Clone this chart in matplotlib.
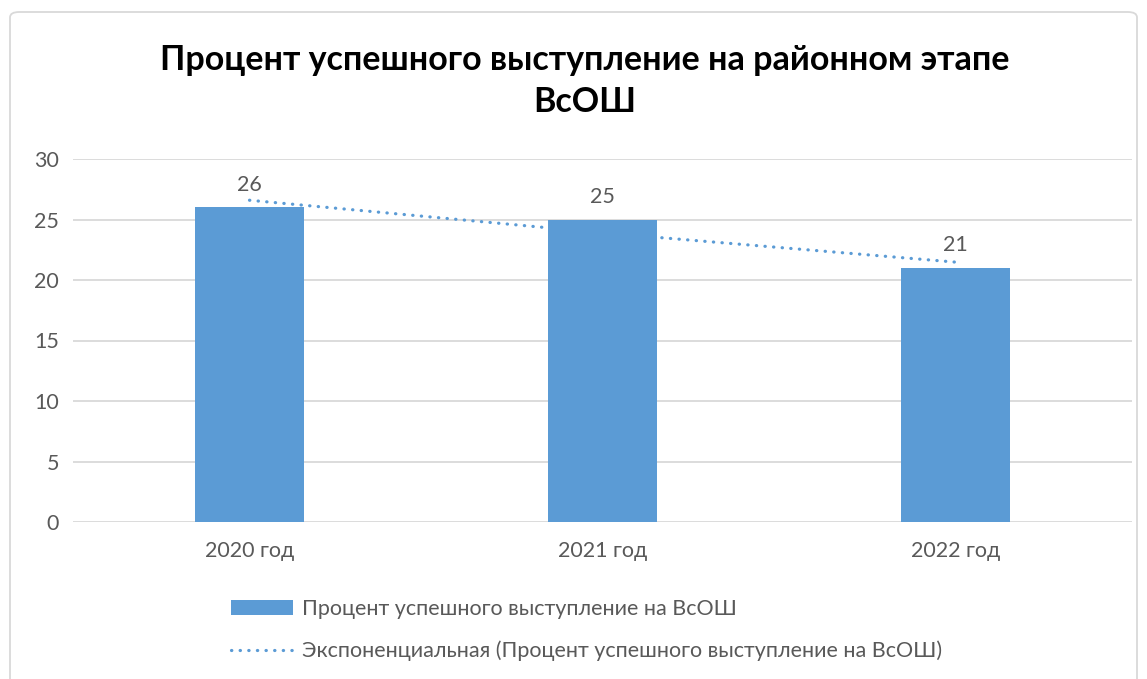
import numpy as np
import matplotlib
matplotlib.use('Agg')
import matplotlib.pyplot as plt
from matplotlib.patches import FancyBboxPatch

plt.rcParams['font.family'] = ['Lato', 'DejaVu Sans']

# data
years = ['2020 год', '2021 год', '2022 год']
values = [26, 25, 21]
series_name = 'Процент успешного выступление на ВсОШ'
trend_name = 'Экспоненциальная (Процент успешного выступление на ВсОШ)'
title = 'Процент успешного выступление на районном этапе\nВсОШ'

blue = '#5b9bd5'
grey_txt = '#595959'
grid_c = '#d9d9d9'

fig = plt.figure(figsize=(11.47, 6.79), dpi=100, facecolor='white')

# chart border like excel
border = FancyBboxPatch((10/1147, -0.05), 1127/1147, 1-12/679+0.05,
                        boxstyle='round,pad=0,rounding_size=0.008',
                        transform=fig.transFigure, fill=False,
                        edgecolor=grid_c, linewidth=1.3)
fig.patches.append(border)

ax = fig.add_axes([73/1147, 157/679, 1059/1147, 363/679])
x = np.arange(len(years))
bars = ax.bar(x, values, width=0.31, color=blue, zorder=2, label=series_name)

for xi, v in zip(x, values):
    ax.annotate(str(v), (xi, v), xytext=(0, 9), textcoords='offset points',
                ha='center', va='bottom', fontsize=15.5, color=grey_txt)

# exponential trend (least squares on log values)
xs = x + 1
b, lna = np.polyfit(xs, np.log(values), 1)
trend = np.exp(lna + b*xs)
tline, = ax.plot(x, trend, color=blue, linestyle=(0, (0.1, 2.6)), linewidth=2.3,
                 dash_capstyle='round', zorder=3, label=trend_name)

ax.set_xlim(-0.5, 2.5)
ax.set_ylim(0, 30)
ax.set_yticks(range(0, 31, 5))
ax.yaxis.grid(True, color=grid_c, linewidth=1.3, zorder=0)
ax.set_axisbelow(True)
for s in ax.spines.values():
    s.set_visible(False)
ax.set_xticks(x)
ax.set_xticklabels(years)
ax.tick_params(axis='both', length=0, labelsize=15.5, labelcolor=grey_txt)
ax.tick_params(axis='y', pad=10)
ax.tick_params(axis='x', pad=14)

fig.text(585/1147, 1-81/679, title, ha='center', va='center', fontsize=24.5,
         fontweight='bold', color='black', linespacing=1.36)

fig.legend(handles=[bars, tline], loc='upper left',
           bbox_to_anchor=(212/1147, 1-580/679), frameon=False,
           fontsize=15.5, labelcolor=grey_txt, handlelength=2.85,
           handleheight=0.7, handletextpad=0.45, labelspacing=0.98)

fig.savefig('out.png', dpi=100, facecolor='white')
